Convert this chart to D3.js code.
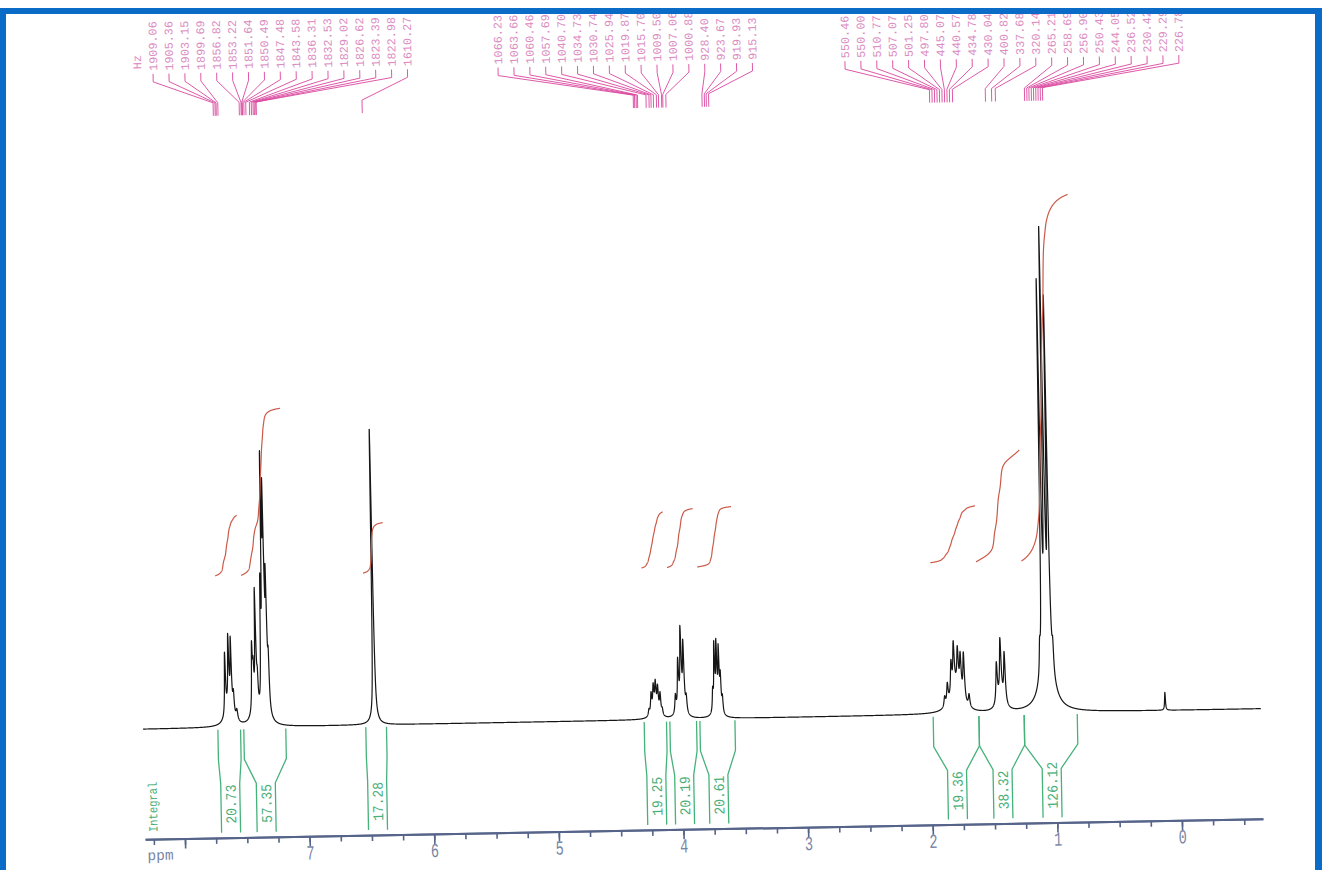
<!DOCTYPE html>
<html>
<head>
<meta charset="utf-8">
<script src="https://cdn.jsdelivr.net/npm/d3@7"></script>
<style>
  html, body { margin: 0; padding: 0; background: #fff; }
  svg { display: block; }
</style>
</head>
<body>
<svg id="chart" width="1322" height="870"></svg>
<script>
// ---------------------------------------------------------------
// 1H NMR spectrum (250 MHz) with peak-pick labels and integrals
// ---------------------------------------------------------------

// Spectrum lines: [shift (ppm), height (a.u.), half width (ppm)]
const aromaticLines = [
  [7.656, 12, 0.005], [7.628, 12.5, 0.005], [7.608, 13, 0.005], [7.590, 4, 0.006], [7.565, 2, 0.008], [7.625, 5, 0.03],
  [7.438, 12, 0.005], [7.428, 6, 0.005], [7.408, 22, 0.005], [7.395, 5, 0.005], [7.420, 4, 0.025],
  [7.362, 22, 0.005], [7.346, 42, 0.005], [7.333, 34, 0.005], [7.318, 22, 0.005], [7.305, 9, 0.005], [7.335, 7, 0.02]
];
const vinylLines = [[6.462, 58, 0.005], [6.462, 1.5, 0.03]];
const oxyLines = [
  [4.259, 1.2, 0.006], [4.240, 4, 0.006], [4.222, 4.8, 0.006], [4.205, 5, 0.006], [4.187, 4.6, 0.006], [4.168, 4, 0.006], [4.152, 1.2, 0.006], [4.205, 1.8, 0.03],
  [4.045, 3.5, 0.006], [4.022, 9.5, 0.006], [3.999, 14.5, 0.006], [3.978, 13, 0.006], [3.958, 3, 0.006], [4.000, 2.5, 0.025],
  [3.745, 4, 0.005], [3.730, 12.5, 0.005], [3.713, 11, 0.005], [3.695, 11, 0.005], [3.682, 6.5, 0.005], [3.668, 3, 0.005], [3.710, 3, 0.02]
];
const alkylLines = [
  [1.885, 2, 0.007], [1.862, 4, 0.007], [1.830, 6.5, 0.007], [1.809, 9, 0.007], [1.777, 7.5, 0.007], [1.755, 7.5, 0.007], [1.729, 9.5, 0.007], [1.689, 2.5, 0.007], [1.790, 5, 0.05],
  [1.466, 8, 0.007], [1.434, 11, 0.007], [1.402, 10, 0.007], [1.434, 3, 0.03],
  [1.115, 5, 0.006], [1.090, 73, 0.005], [1.062, 78, 0.005], [1.035, 69, 0.005], [1.010, 5, 0.006], [1.062, 15, 0.045],
  [0.118, 3.6, 0.004]
];

// Integrated regions (ppm) and their values
const integralValues = [20.73, 57.35, 17.28, 19.25, 20.19, 20.61, 19.36, 38.32, 126.12];
const integralFrom   = [7.720, 7.512, 6.533, 4.299, 4.093, 3.852, 1.980, 1.613, 1.250];
const integralTo     = [7.538, 7.175, 6.367, 4.120, 3.879, 3.571, 1.613, 1.250, 0.824];

// Peak-pick labels (Hz)
const peaksHzAromatic = [1909.06, 1905.36, 1903.15, 1899.69, 1856.82, 1853.22, 1851.64, 1850.49, 1847.48,
  1843.58, 1836.31, 1832.53, 1829.02, 1826.62, 1823.39, 1822.98, 1610.27];
const peaksHzOxy = [1066.23, 1063.66, 1060.46, 1057.69, 1040.70, 1034.73, 1030.74, 1025.94, 1019.87,
  1015.70, 1009.50, 1007.06, 1000.88, 928.40, 923.67, 919.93, 915.13];
const peaksHzAlkyl = [550.46, 550.00, 510.77, 507.07, 501.25, 497.80, 445.07, 440.57, 434.78, 430.04,
  400.82, 337.68, 320.14, 265.21, 258.69, 256.90, 250.43, 244.05, 236.52, 230.42, 229.29, 226.78];
// where the alkyl labels' leader lines land (ppm)
const alkylMarkerPpm = [1.918, 1.898, 1.878, 1.858, 1.838, 1.818, 1.798, 1.778, 1.758, 1.734,
  1.470, 1.420, 1.390,
  1.156, 1.137, 1.120, 1.101, 1.083, 1.065, 1.047, 1.029, 1.011];

// Axis
const ppmDomain = [8.32, -0.65];
const majorTicks = [8, 7, 6, 5, 4, 3, 2, 1, 0];
const majorTickLabels = ["", "7", "6", "5", "4", "3", "2", "1", "0"];
const minorTicks = d3.range(33, -3, -1).map(k => k / 4);   // every 0.25 ppm, 8.25 .. -0.5

const SPEC_MHZ = 250;
const HZ_OFFSET_PPM = 0.03;

// ---------------------------------------------------------------
const svg = d3.select('#chart');
const MONO = '"Liberation Mono", "DejaVu Sans Mono", monospace';

const x = d3.scaleLinear().domain(ppmDomain).range([143, 1261]);
const y = d3.scaleLinear().domain([0, 100]).range([719, 219]);
const integralScale = d3.scaleLinear().domain([0, 100]).range([0, 290]);
const INTEGRAL_FLOOR = 567;

// the printed sheet sits slightly tilted
const page = svg.append('g').attr('transform', 'rotate(-1.05, 700, 720)');

// ---- spectrum trace ----
const allLines = [...aromaticLines, ...vinylLines, ...oxyLines, ...alkylLines];
function intensity(p) {
  let s = 0;
  for (const [c, h, g] of allLines) { const d = p - c; s += h * g * g / (d * d + g * g); }
  return s;
}
const step = 0.0008;
const trace = d3.range(ppmDomain[0], ppmDomain[1] - 1e-9, -step).map(p => ({ p, i: intensity(p) }));

page.append('path')
  .datum(trace)
  .attr('fill', 'none')
  .attr('stroke', '#161616')
  .attr('stroke-width', 1.2)
  .attr('stroke-linejoin', 'round')
  .attr('d', d3.line().x(d => x(d.p)).y(d => y(d.i)));

// ---- integral curves ----
const integralLine = d3.line().x(d => x(d.p)).y(d => d.y).curve(d3.curveLinear);
integralValues.forEach((val, k) => {
  const a = integralFrom[k], b = integralTo[k];
  const seg = trace.filter(d => d.p <= a && d.p >= b);
  let cum = 0;
  const acc = [{ p: seg[0].p, c: 0 }];
  for (let j = 1; j < seg.length; j++) {
    cum += (seg[j - 1].i + seg[j].i) / 2;
    acc.push({ p: seg[j].p, c: cum });
  }
  const pts = acc.map(d => ({ p: d.p, y: INTEGRAL_FLOOR - integralScale(val * d.c / cum) }));
  page.append('path')
    .datum(pts)
    .attr('fill', 'none')
    .attr('stroke', '#cc5a48')
    .attr('stroke-width', 1.2)
    .attr('d', integralLine);
});

// ---- integral brackets and values ----
const BR_TOP = 721, BR_BEND1 = 751, BR_BEND2 = 775, BR_BOTTOM = 824;
const brackets = page.append('g').attr('stroke', '#45b27a').attr('stroke-width', 1.3).attr('fill', 'none');
integralValues.forEach((val, k) => {
  const xa = x(integralFrom[k]), xb = x(integralTo[k]);
  const c = (xa + xb) / 2;
  const half = Math.min((xb - xa) / 2, 9.5);
  brackets.append('path').attr('d', `M${xa},${BR_TOP}V${BR_BEND1}L${c - half},${BR_BEND2}V${BR_BOTTOM}`);
  brackets.append('path').attr('d', `M${xb},${BR_TOP}V${BR_BEND1}L${c + half},${BR_BEND2}V${BR_BOTTOM}`);
  page.append('text')
    .attr('transform', `translate(${c},815) rotate(-90) scale(1,1.15)`)
    .attr('dy', '0.36em')
    .attr('font-family', MONO)
    .attr('font-size', 13)
    .attr('fill', '#4aaf78')
    .text(val.toFixed(2));
});
page.append('text')
  .attr('transform', 'translate(151,822) rotate(-90) scale(1,1.2)')
  .attr('dy', '0.36em')
  .attr('font-family', MONO)
  .attr('font-size', 10.5)
  .attr('fill', '#4aaf78')
  .text('Integral');

// ---- peak-pick labels ----
const LABEL_BASE = 61, TICK_TOP = 64, TICK_BOTTOM = 72, LEAD_END = 94, MARK_END = 107;
const LABEL_STEP = 15.9;
function peakLabels(values, startX, markerPpm) {
  const g = page.append('g');
  values.forEach((hz, k) => {
    const lx = startX + k * LABEL_STEP;
    const mx = x(markerPpm(hz, k));
    g.append('text')
      .attr('transform', `translate(${lx},${LABEL_BASE}) rotate(-90)`)
      .attr('dy', '0.36em')
      .attr('font-family', MONO)
      .attr('font-size', 11.8)
      .attr('fill', '#db8cc2')
      .text(hz.toFixed(2));
    g.append('path')
      .attr('d', `M${lx},${TICK_TOP}V${TICK_BOTTOM}L${mx},${LEAD_END}V${MARK_END}`)
      .attr('fill', 'none')
      .attr('stroke', '#d9489f')
      .attr('stroke-width', 0.9);
  });
}
const hzToPpm = hz => hz / SPEC_MHZ + HZ_OFFSET_PPM;
peakLabels(peaksHzAromatic, 165, hz => hzToPpm(hz));
peakLabels(peaksHzOxy, 510, hz => hzToPpm(hz));
peakLabels(peaksHzAlkyl, 857, (hz, k) => alkylMarkerPpm[k]);
page.append('text')
  .attr('transform', `translate(149,${LABEL_BASE - 2}) rotate(-90)`)
  .attr('dy', '0.36em')
  .attr('font-family', MONO)
  .attr('font-size', 11.8)
  .attr('fill', '#db8cc2')
  .text('Hz');

// ---- ppm axis ----
const AXIS_Y = 829;
const axisColor = '#56648a';
const minorAxis = page.append('g').attr('transform', `translate(0,${AXIS_Y})`)
  .call(d3.axisBottom(x).tickValues(minorTicks).tickSize(6).tickSizeOuter(0).tickFormat(''));
const majorAxis = page.append('g').attr('transform', `translate(0,${AXIS_Y})`)
  .call(d3.axisBottom(x).tickValues(majorTicks).tickSize(10).tickSizeOuter(0).tickPadding(-1)
    .tickFormat((d, i) => majorTickLabels[i]));
[minorAxis, majorAxis].forEach(g => {
  g.select('.domain').attr('stroke', axisColor).attr('stroke-width', 2);
  g.selectAll('.tick line').attr('stroke', axisColor).attr('stroke-width', 1.6);
});
majorAxis.selectAll('.tick text')
  .attr('font-family', MONO)
  .attr('font-size', 20)
  .attr('fill', '#7886a6')
  .attr('transform', 'scale(0.68,1)');
page.append('text')
  .attr('x', 145).attr('y', 850)
  .attr('font-family', MONO)
  .attr('font-size', 14.5)
  .attr('fill', '#7886a6')
  .text('ppm');

// ---- sheet frame ----
svg.append('rect').attr('x', 0).attr('y', 0).attr('width', 1322).attr('height', 8).attr('fill', '#fff');
svg.append('rect').attr('x', 0).attr('y', 8).attr('width', 1322).attr('height', 6).attr('fill', '#0b6cc7');
svg.append('rect').attr('x', 0).attr('y', 8).attr('width', 6).attr('height', 862).attr('fill', '#0b6cc7');
svg.append('rect').attr('x', 1315).attr('y', 8).attr('width', 7).attr('height', 862).attr('fill', '#0b6cc7');
</script>
</body>
</html>
